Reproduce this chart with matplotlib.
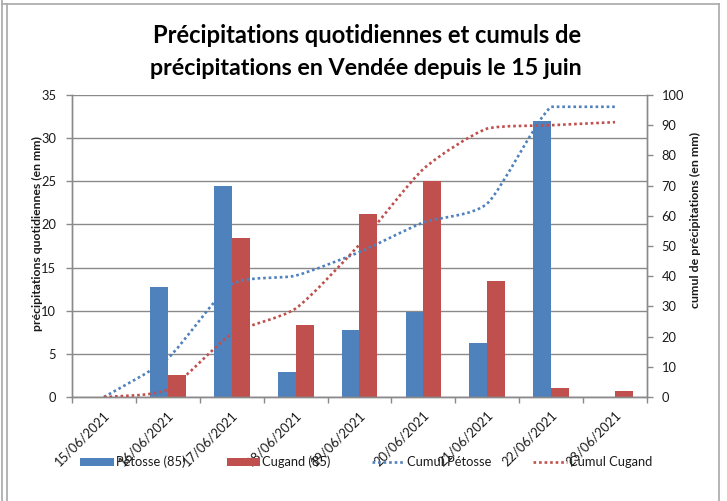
import matplotlib
matplotlib.use('Agg')
import matplotlib.pyplot as plt
import numpy as np
from matplotlib.path import Path
from matplotlib.patches import PathPatch, Patch
from matplotlib.lines import Line2D

plt.rcParams['font.family'] = ['Lato', 'DejaVu Sans']

# ---------------- data ----------------
dates = ['15/06/2021', '16/06/2021', '17/06/2021', '18/06/2021', '19/06/2021',
         '20/06/2021', '21/06/2021', '22/06/2021', '23/06/2021']
petosse = [0, 12.8, 24.5, 2.9, 7.8, 9.8, 6.3, 32.0, 0]
cugand = [0, 2.5, 18.4, 8.4, 21.2, 25.0, 13.4, 1.0, 0.7]
cumul_petosse = [0, 12.8, 37.3, 40.2, 48.0, 57.8, 64.1, 96.1, 96.1]
cumul_cugand = [0, 2.5, 20.9, 29.3, 50.5, 75.5, 88.9, 90.0, 91.0]
left_ticks = [0, 5, 10, 15, 20, 25, 30, 35]
right_ticks = [0, 10, 20, 30, 40, 50, 60, 70, 80, 90, 100]
series_names = ['Pétosse (85)', 'Cugand (85)', 'Cumul Pétosse', 'Cumul Cugand']

BLUE = '#4F81BD'
RED = '#C0504D'
GRID = '#8a8a8a'
TXT = '#1a1a1a'

W, H = 727, 501
fig = plt.figure(figsize=(W / 100, H / 100), dpi=100)


def fx(px):
    return px / W


def fy(py):
    return 1 - py / H


ax = fig.add_axes([fx(72), fy(397), (647 - 72) / W, (397 - 95) / H])
ax2 = ax.twinx()

x = np.arange(len(dates))
bw = 0.28
ax.bar(x - bw / 2, petosse, width=bw, color=BLUE, zorder=2)
ax.bar(x + bw / 2, cugand, width=bw, color=RED, zorder=2)

ax.set_xlim(-0.5, len(dates) - 0.5)
ax.set_ylim(0, 35)
ax.set_yticks(left_ticks)
ax.yaxis.grid(True, color=GRID, linewidth=1.0)
ax.set_axisbelow(True)

ax2.set_ylim(0, 100)
ax2.set_yticks(right_ticks)


def smooth_path(xs, ys, k=1 / 9.0):
    pts = np.column_stack([xs, ys]).astype(float)
    n = len(pts)
    verts = [pts[0]]
    codes = [Path.MOVETO]
    for i in range(n - 1):
        p0 = pts[i - 1] if i > 0 else pts[i]
        p1 = pts[i]
        p2 = pts[i + 1]
        p3 = pts[i + 2] if i + 2 < n else pts[i + 1]
        c1 = p1 + (p2 - p0) * k
        c2 = p2 - (p3 - p1) * k
        lo, hi = min(p1[1], p2[1]), max(p1[1], p2[1])
        c1[1] = np.clip(c1[1], lo, hi)
        c2[1] = np.clip(c2[1], lo, hi)
        verts += [c1, c2, p2]
        codes += [Path.CURVE4] * 3
    return Path(verts, codes)


dot = (0, (1.0, 1.1))
for vals, col in [(cumul_petosse, BLUE), (cumul_cugand, RED)]:
    patch = PathPatch(smooth_path(x, vals), fill=False, edgecolor=col,
                      linewidth=1.9, linestyle=dot, zorder=3)
    ax2.add_patch(patch)

# spines
for a in (ax, ax2):
    for s in a.spines.values():
        s.set_color(GRID)
        s.set_linewidth(1.0)
    a.spines['top'].set_visible(False)

# x ticks: boundaries (marks) + labels at category centres
ax.set_xticks(np.arange(len(dates) + 1) - 0.5)
ax.set_xticklabels([])
ax.set_xticks(x + 0.06, minor=True)
ax.set_xticklabels(dates, minor=True, rotation=45, ha='right', va='center',
                   rotation_mode='anchor', fontsize=9.3, color=TXT)
ax.tick_params(axis='x', which='minor', length=0, pad=11.5)
ax.tick_params(axis='x', which='major', length=4, width=1, color=GRID, direction='out')
ax.tick_params(axis='y', length=4, width=1, color=GRID, direction='out', pad=7.5,
               labelsize=9.3, labelcolor=TXT)
ax2.tick_params(axis='y', length=4, width=1, color=GRID, direction='out', pad=6.5,
                labelsize=9.3, labelcolor=TXT)

# axis titles
ylab_l = fig.text(fx(37), fy(233), 'précipitations quotidiennes (en mm)', rotation=90,
                  ha='center', va='center', fontsize=8, fontweight='bold', color=TXT)
ylab_r = fig.text(fx(695), fy(220), 'cumul de précipitations (en mm)', rotation=90,
                  ha='center', va='center', fontsize=8, fontweight='bold', color=TXT)

# title
t1 = fig.text(fx(367), fy(43), 'Précipitations quotidiennes et cumuls de', ha='center',
              va='baseline', fontsize=18, fontweight='bold', color='black')
t2 = fig.text(fx(366), fy(75), 'précipitations en Vendée depuis le 15 juin', ha='center',
              va='baseline', fontsize=18, fontweight='bold', color='black')

# legend
handles = [Patch(facecolor=BLUE, edgecolor='none'),
           Patch(facecolor=RED, edgecolor='none'),
           Line2D([0], [0], color=BLUE, linewidth=1.9, linestyle=dot),
           Line2D([0], [0], color=RED, linewidth=1.9, linestyle=dot)]
fig.legend(handles, series_names, loc='center', bbox_to_anchor=(fx(366), fy(462)),
           ncol=4, frameon=False, fontsize=9.3, handlelength=2.6, handleheight=0.55,
           handletextpad=0.15, columnspacing=3.2, borderpad=0, labelcolor=TXT)

# fit text widths to reference
renderer = fig.canvas.get_renderer()


def fit(t, target):
    for _ in range(3):
        bb = t.get_window_extent(renderer)
        size = max(bb.width, bb.height)
        t.set_fontsize(t.get_fontsize() * target / size)


fit(t1, 431)
fit(t2, 432)
fit(ylab_l, 196)
fit(ylab_r, 175)

# chart frame
BORDER = '#a8a8a8'
for xs, ys in [([2, 2], [0, H]), ([6.5, 6.5], [3.5, H]), ([2, 718.5], [3.5, 3.5]),
               ([718.5, 718.5], [3.5, H])]:
    fig.add_artist(Line2D([fx(v) for v in xs], [fy(v) for v in ys],
                          transform=fig.transFigure, color=BORDER, linewidth=1.2))

fig.savefig('out.png', dpi=100)
